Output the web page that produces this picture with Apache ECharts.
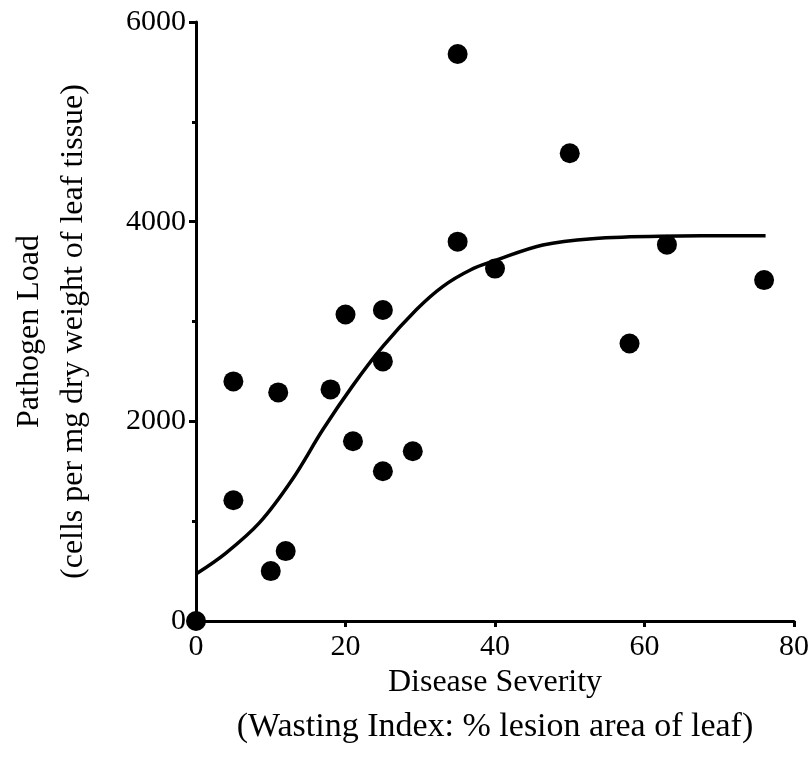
<!DOCTYPE html>
<html>
<head>
<meta charset="utf-8">
<script src="https://cdn.jsdelivr.net/npm/echarts@6/dist/echarts.min.js"></script>
<style>
  html, body { margin: 0; padding: 0; background: #fff; }
  #chart { width: 812px; height: 762px; }
</style>
</head>
<body>
<div id="chart"></div>
<script>
// measured points (disease severity %, pathogen load)
const severity = [0, 5, 5, 10, 11, 12, 18, 20, 21, 25, 25, 25, 29, 35, 35, 40, 50, 58, 63, 76];
const load = [0, 2400, 1210, 500, 2290, 700, 2320, 3070, 1800, 3115, 2600, 1500, 1700, 5680, 3800, 3530, 4685, 2780, 3770, 3415];

// fitted curve
const fitX = [0, 4, 8.5, 12.9, 17, 21, 25, 29.5, 33, 36.7, 40, 46.4, 53, 62, 76.2];
const fitY = [470, 680, 985, 1420, 1920, 2360, 2750, 3120, 3350, 3516, 3610, 3766, 3830, 3855, 3860];

const xTicks = [0, 20, 40, 60, 80];
const yTicks = [0, 2000, 4000, 6000];

const font = '"Liberation Serif", "Times New Roman", serif';

const chart = echarts.init(document.getElementById('chart'));

chart.setOption({
  animation: false,
  grid: { left: 195, right: 17, top: 22, bottom: 141, containLabel: false },
  xAxis: {
    type: 'value',
    min: xTicks[0],
    max: xTicks[xTicks.length - 1],
    interval: 20,
    name: '{a|Disease Severity}\n{b|(Wasting Index: % lesion area of leaf)}',
    nameLocation: 'middle',
    nameGap: 34,
    nameTextStyle: {
      fontFamily: font, color: '#000',
      rich: {
        a: { fontFamily: font, fontSize: 32, color: '#000', lineHeight: 44 },
        b: { fontFamily: font, fontSize: 34, color: '#000', lineHeight: 44 }
      }
    },
    axisLine: { lineStyle: { color: '#000', width: 3 } },
    axisTick: { length: 6, lineStyle: { color: '#000', width: 3 } },
    axisLabel: { fontFamily: font, fontSize: 30, color: '#000', margin: 11 },
    splitLine: { show: false }
  },
  yAxis: {
    type: 'value',
    min: yTicks[0],
    max: yTicks[yTicks.length - 1],
    interval: 2000,
    name: 'Pathogen Load\n(cells per mg dry weight of leaf tissue)',
    nameLocation: 'middle',
    nameRotate: 90,
    nameGap: 100,
    nameTextStyle: { fontFamily: font, fontSize: 32, color: '#000', lineHeight: 44, padding: [0, 20, 0, 0] },
    axisLine: { lineStyle: { color: '#000', width: 3 } },
    axisTick: { length: 7, lineStyle: { color: '#000', width: 3 } },
    minorTick: { show: true, splitNumber: 2, length: 4, lineStyle: { color: '#000', width: 3 } },
    axisLabel: { fontFamily: font, fontSize: 30, color: '#000', margin: 10, formatter: v => String(v) },
    splitLine: { show: false }
  },
  series: [
    {
      type: 'line',
      data: fitX.map((x, i) => [x, fitY[i]]),
      smooth: 0.35,
      showSymbol: false,
      lineStyle: { color: '#000', width: 3.5 },
      z: 3
    },
    {
      type: 'scatter',
      data: severity.map((x, i) => [x, load[i]]),
      symbolSize: 20,
      itemStyle: { color: '#000', opacity: 1 },
      clip: false,
      z: 4
    }
  ]
});
</script>
</body>
</html>
